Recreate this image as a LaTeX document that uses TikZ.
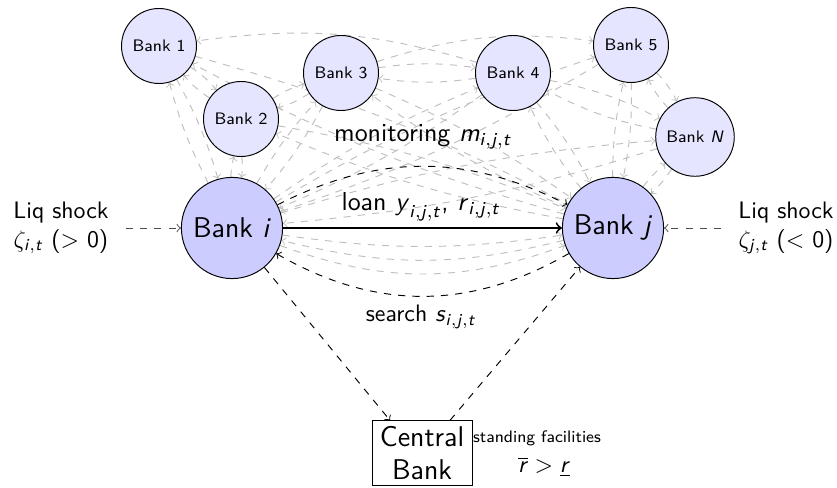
\documentclass[tikz,border=0pt]{standalone}
\usepackage{amstext}
\usetikzlibrary{backgrounds,calc}
% slanted sans letters for the variables
\newcommand{\sv}[1]{\textsf{\textsl{#1}}}
\newcommand{\ijt}{\sv{i},\sv{j},\sv{t}}
\tikzset{
  bank/.style={circle, draw=black, fill=blue!10, minimum size=31.5pt, inner sep=0pt, font=\sffamily\scriptsize},
  bigbank/.style={circle, draw=black, fill=blue!20, minimum size=42.5pt, inner sep=0pt, font=\sffamily\large},
  cbank/.style={rectangle, draw=black, align=center, inner sep=2pt, minimum width=42pt, minimum height=27pt, font=\sffamily\large},
  lbl/.style={font=\sffamily, align=center, inner sep=1pt},
  biglbl/.style={lbl, font=\sffamily\fontsize{10.9}{13}\selectfont},
  flow/.style={->, dashed, black},
  link/.style={->, dashed, gray!50},
}
\begin{document}
\begin{tikzpicture}[x=0.42pt, y=-0.42pt]
\useasboundingbox (0,0) rectangle (837,488);

% banks of the network
\node[bank] (b1) at (159,46) {Bank 1};
\node[bank] (b2) at (241,119) {Bank 2};
\node[bank] (b3) at (341,73) {Bank 3};
\node[bank] (b4) at (513,73) {Bank 4};
\node[bank] (b5) at (631,45) {Bank 5};
\node[bank, minimum size=33pt] (bn) at (695,137) {Bank \sv{N}};
\node[bigbank] (bi) at (232,228) {Bank \sv{i}};
\node[bigbank] (bj) at (613,228) {Bank \sv{j}};
\node[cbank] (cb) at (422,453) {Central\\Bank};

% liquidity shocks
\node[lbl] (shi) at (61,228) {Liq shock\\$\zeta_{\sv{i},\sv{t}}$ ($>$ 0)};
\node[lbl] (shj) at (786,228) {Liq shock\\$\zeta_{\sv{j},\sv{t}}$ ($<$ 0)};

% labels
\node[biglbl] (mon) at (423,137) {monitoring $\sv{m}_{\ijt}$};
\node[biglbl] (loan) at (421,207) {loan $\sv{y}_{\ijt}$,\ $\sv{r}_{\ijt}$};
\node[lbl] (srch) at (421,317) {search $\sv{s}_{\ijt}$};
\node[lbl, font=\sffamily\scriptsize] (sf) at (537,438) {standing facilities};
\node[lbl] (rr) at (544,467) {$\overline{\sv{r}} > \underline{\sv{r}}$};

% background mesh of interbank links
\begin{scope}[on background layer]
\foreach \s in {b1,b2,b3,b4,b5,bn}{
  \draw[link] (bi) to[bend left=6] (\s);
  \draw[link] (\s) to[bend left=6] (bi);
  \draw[link] (bj) to[bend left=6] (\s);
  \draw[link] (\s) to[bend left=6] (bj);
}
\draw[link] (b4) to[bend right=12] (b1);
\draw[link] (b3) to[bend left=12] (b5);
\foreach \a/\b in {b2/b3,b3/b4,b4/bn,b2/b1,bn/b5}{
  \draw[link] (\a) to[bend left=8] (\b);
  \draw[link] (\b) to[bend left=8] (\a);
}
\draw[link] (bi) to[bend right=8] (bj);
\draw[link] (bj) to[bend left=14] (bi);
\draw[link] (bi) to[bend right=20] (bj);
\end{scope}

% main flows
\draw[->, thick] (bi) -- (bj);
\draw[flow] (bi) to[bend left=27] (bj);
\draw[flow] (bj) to[bend left=30] (bi);
\draw[flow] (bi) -- ($(cb.north)+(-32,0)$);
\draw[flow] ($(cb.north)+(28,0)$) -- (bj);
\draw[flow, black!70, shorten <=6pt] (shi) -- (bi);
\draw[flow, black!70, shorten <=6pt] (shj) -- (bj);
\end{tikzpicture}
\end{document}
